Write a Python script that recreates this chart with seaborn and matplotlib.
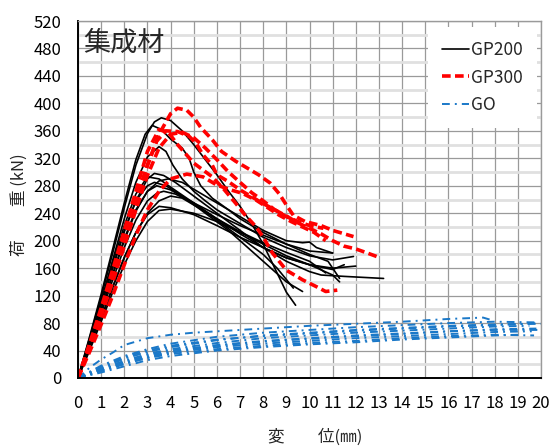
import matplotlib
matplotlib.use("Agg")
import matplotlib.pyplot as plt
import seaborn as sns
from matplotlib.lines import Line2D
from matplotlib.ticker import MultipleLocator

sns.set_theme(style="white")
plt.rcParams['font.family'] = ['Noto Sans CJK JP', 'DejaVu Sans']

# ---------------- data ----------------
# GP200 (black, solid)
gp200_x = [
    [0,0.5,1,1.5,2,2.5,3,3.3,3.6,4,4.5,5,5.5,6,6.5,7,7.5,8,8.5,9,9.4],
    [0,0.5,1,1.5,2,2.5,2.9,3.2,3.6,4,4.5,4.8,5,5.3,5.8,6.5,7,8,9,10,10.8,11.3],
    [0,0.5,1,1.5,2,2.5,3,3.5,3.8,4.1,4.5,5,5.5,6,7,8,9,10,11,11.9],
    [0,0.5,1,1.5,2,2.5,3,3.3,3.7,4.2,5,6,7,8,9,10,10.5,11.5,13.2],
    [0,0.5,1,1.5,2,2.5,3,3.5,4,5,6,7,8,9,10,11,12],
    [0,0.5,1,1.5,2,2.5,3,3.5,3.9,4.5,5,6,7,8,9,9.7,10,10.3,11],
    [0,0.5,1,1.5,2,2.5,3,3.4,4,5,6,7,8,8.6,9.3],
    [0,0.5,1,1.5,2,2.5,3,3.4,3.7,4.2,5,6,7,8,9,10,11],
    [0,0.5,1,1.5,2,2.5,3,3.5,4,4.5,5,6,7,8,9,10,10.7],
    [0,0.5,1,1.5,2,2.5,3,3.5,4,5,6,7,8,9,10,11,11.5],
    [0,0.5,1,1.5,2,2.5,3,3.5,4,5,6,7,8,9,10,11,11.3],
    [0,0.5,1,1.5,2,2.5,3,3.3,3.8,4.5,5.5,6.5,7.5,8.5,9,9.7],
]
gp200_y = [
    [0,58,118,182,248,310,356,373,379,375,360,340,318,296,272,250,225,195,160,125,106],
    [0,60,122,188,255,318,355,368,362,348,335,320,300,280,262,245,232,212,195,180,170,145],
    [0,55,112,172,232,285,322,337,330,310,290,272,258,245,225,205,190,178,172,177],
    [0,52,105,160,213,258,290,298,295,285,265,240,215,190,170,155,150,148,145],
    [0,55,110,168,222,268,293,290,278,255,232,210,190,175,165,160,163],
    [0,48,98,150,200,243,272,287,290,285,275,255,235,215,200,197,198,190,182],
    [0,50,100,152,203,245,272,280,274,255,230,205,180,160,131],
    [0,46,94,143,190,230,258,269,272,268,255,238,222,208,195,185,182],
    [0,42,86,132,175,212,240,258,265,262,252,232,213,197,183,170,153],
    [0,43,88,133,176,212,238,250,248,238,222,205,190,175,165,158,165],
    [0,40,82,125,165,200,228,244,246,240,228,212,195,178,165,150,140],
    [0,53,107,162,215,258,280,285,280,265,240,215,185,155,140,126],
]

# GP300 (red, dashed)
gp300_x = [
    [0,0.5,1,1.5,2,2.5,3,3.5,4,4.3,4.7,5,5.3,5.8,6.2,6.8,7.3,7.8,8.3,8.7,9,9.3,9.8,10.5,11,11.9],
    [0,0.5,1,1.5,2,2.5,3,3.4,3.8,4.3,4.8,5.1,5.4,5.8,6,6.5,7,7.5,8,8.5,9,9.5,10,10.5,11,11.5,12,12.5,12.9],
    [0,0.5,1,1.5,2,2.5,3,3.5,3.9,4.3,5,5.8,6.3,6.8,7.2,7.7,8,8.4,9,9.7,10.3,10.7,11.2],
    [0,0.5,1,1.5,2,2.5,3,3.5,4,4.7,5.4,6,6.6,7.1,7.7,8.2,8.7,9.2,9.7,10.2,10.7],
    [0,0.5,1,1.5,2,2.5,3,3.5,4,4.5,5,5.5,6,6.5,7,7.5,8,8.5,9,9.5,10,10.6],
]
gp300_y = [
    [0,45,92,145,200,255,310,355,385,393,390,380,365,347,330,316,306,296,284,268,252,237,228,222,215,206],
    [0,48,98,150,205,260,310,345,360,359,352,342,325,310,296,286,274,264,254,245,236,226,218,210,200,192,188,182,177],
    [0,50,102,158,215,272,330,362,358,340,313,293,275,255,238,220,205,182,157,143,133,126,128],
    [0,38,78,120,165,208,245,272,290,297,293,281,274,269,259,248,237,228,220,212,200],
    [0,44,90,140,192,245,295,335,355,358,350,335,318,300,285,270,258,245,235,228,222,218],
]

# GO (blue, dash-dot)
go_x = [
    [0,0.5,1,1.5,2,3,4,5,6,8,10,12,14,16,17.5,17.8],
    [0,1,2,3,4,6,8,10,12,14,16,18,19.8],
    [0,1,2,3,4,6,8,10,12,14,16,18,20],
    [0,1,2,3,4,6,8,10,12,14,16,18,19.5],
    [0,1,2,3,4,6,8,10,12,14,16,18,19.8],
    [0,1,2,3,4,6,8,10,12,14,16,18,19.6],
    [0,1,2,3,4,6,8,10,12,14,16,18,19.7],
    [0,1,2,3,4,6,8,10,12,14,16,18,20],
    [0,1,2,3,4,6,8,10,12,14,16,18,19],
    [0,1,2,3,4,6,8,10,12,14,16,18,19.9],
]
go_y = [
    [0,15,27,37,48,58,63,66,68,72,76,79,82,86,88,85],
    [0,18,32,42,50,60,66,70,74,77,80,82,81],
    [0,15,28,38,45,55,62,66,70,73,76,78,79],
    [0,14,25,35,42,51,58,62,66,69,72,75,76],
    [0,12,23,33,40,48,54,58,62,65,68,71,72],
    [0,10,20,30,37,45,50,54,58,61,64,67,68],
    [0,11,21,29,35,42,47,51,54,58,61,63,62],
    [0,12,22,31,38,47,53,57,61,64,68,70,70],
    [0,8,17,26,32,40,45,49,52,56,59,62,63],
    [0,16,30,40,47,56,61,65,69,72,75,77,80],
]

series_names = ["GP200", "GP300", "GO"]
title_text = "集成材"
xlabel_text = "変　　位(㎜)"
ylabel_text = "荷　　重 (kN)"

# ---------------- plot ----------------
fig = plt.figure(figsize=(5.53, 4.46), dpi=100)
ax = fig.add_axes([78/553, 1-378/446, 463/553, 357/446])

blue = "#1a78c8"
red = "#ff0000"
go_dashes = (4.0, 2.6, 1.0, 2.6)
gp300_dashes = (2.4, 1.2)

for xs, ys in zip(go_x, go_y):
    sns.lineplot(x=xs, y=ys, sort=False, estimator=None, ax=ax, color=blue, lw=1.4)
    ax.lines[-1].set_dashes(go_dashes)
for xs, ys in zip(gp200_x, gp200_y):
    sns.lineplot(x=xs, y=ys, sort=False, estimator=None, ax=ax, color="black", lw=1.2)
for xs, ys in zip(gp300_x, gp300_y):
    sns.lineplot(x=xs, y=ys, sort=False, estimator=None, ax=ax, color=red, lw=2.6)
    ax.lines[-1].set_dashes(gp300_dashes)

ax.set_xlim(0, 20)
ax.set_ylim(0, 520)
ax.xaxis.set_major_locator(MultipleLocator(1))
ax.yaxis.set_major_locator(MultipleLocator(40))
ax.yaxis.set_minor_locator(MultipleLocator(20))
ax.grid(which="major", axis="both", color="#9a9a9a", lw=0.9)
ax.grid(which="minor", axis="y", color="#e0e0e0", lw=2.0)
ax.set_axisbelow(True)
ax.tick_params(axis="both", which="both", length=0, labelsize=12, colors="black")
ax.tick_params(axis="y", pad=12)
ax.tick_params(axis="x", pad=12)

for s in ["left", "bottom"]:
    ax.spines[s].set_color("black")
    ax.spines[s].set_linewidth(1.4)
for s in ["top", "right"]:
    ax.spines[s].set_color("#9a9a9a")
    ax.spines[s].set_linewidth(1.0)

ax.text(0.012, 0.975, title_text, transform=ax.transAxes, fontsize=19.5,
        style="italic", va="top", ha="left")

ax.set_xlabel(xlabel_text, fontsize=12)
ax.xaxis.set_label_coords(0.512, -0.142)
ax.set_ylabel(ylabel_text, fontsize=12)
ax.yaxis.set_label_coords(-0.108, 0.485)

handles = [
    Line2D([], [], color="black", lw=1.2),
    Line2D([], [], color=red, lw=2.6, dashes=gp300_dashes),
    Line2D([], [], color=blue, lw=1.4, dashes=go_dashes),
]
leg = ax.legend(handles, series_names, loc="upper right", bbox_to_anchor=(0.991, 0.983),
                fontsize=12.5, frameon=True, fancybox=False, framealpha=1,
                edgecolor="white", handlelength=1.55, handletextpad=0.15,
                labelspacing=0.55, borderaxespad=0.0, borderpad=0.8)
leg.get_frame().set_linewidth(0)

fig.savefig("out.png", dpi=100)
